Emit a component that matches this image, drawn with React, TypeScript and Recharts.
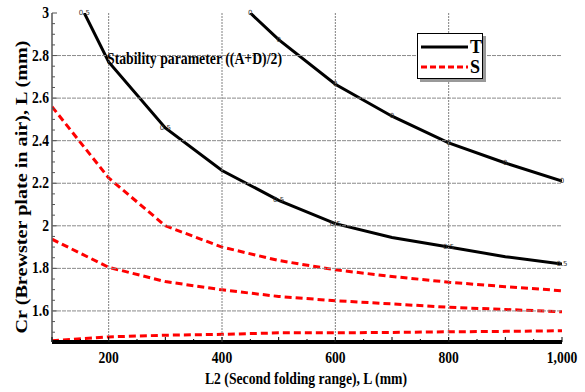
import { LineChart, Line, XAxis, YAxis, LabelList, Legend } from "recharts"

// T curves (contour lines of the stability parameter)
const t1X = [157, 200, 300, 400, 500, 600, 700, 800, 900, 1000]
const t1Y = [3, 2.77, 2.46, 2.26, 2.12, 2.01, 1.945, 1.9, 1.855, 1.82]
const t1Tag = ["0.5", "", "0.5", "", "0.5", "0.5", "", "0.5", "", "0.5"]

const t2X = [450, 500, 600, 700, 800, 900, 1000]
const t2Y = [3, 2.875, 2.665, 2.515, 2.39, 2.295, 2.21]
const t2Tag = ["0", "0", "0", "0", "0", "0", "0"]

const t3X = [100, 1000]
const t3Y = [1.456, 1.456]

// S curves
const sX = [100, 200, 300, 400, 500, 600, 700, 800, 900, 1000]
const s1Y = [2.56, 2.225, 2.0, 1.9, 1.837, 1.793, 1.762, 1.735, 1.714, 1.695]
const s2Y = [1.937, 1.805, 1.738, 1.699, 1.668, 1.648, 1.633, 1.617, 1.607, 1.596]
const s3Y = [1.46, 1.478, 1.486, 1.49, 1.497, 1.497, 1.499, 1.502, 1.504, 1.507]

const xTicks = [100, 150, 200, 250, 300, 350, 400, 450, 500, 550, 600, 650, 700, 750, 800, 850, 900, 950, 1000]
const xLabels = [200, 400, 600, 800, 1000]
const yTicks = [1.5, 1.55, 1.6, 1.65, 1.7, 1.75, 1.8, 1.85, 1.9, 1.95, 2, 2.05, 2.1, 2.15, 2.2, 2.25, 2.3, 2.35, 2.4, 2.45, 2.5, 2.55, 2.6, 2.65, 2.7, 2.75, 2.8, 2.85, 2.9, 2.95, 3]
const yLabels = [1.6, 1.8, 2, 2.2, 2.4, 2.6, 2.8, 3]

const W = 585
const H = 392
const M = { top: 13, right: 23, bottom: 0, left: 0 }
const Y_AXIS_W = 52
const X_AXIS_H = 50
const PLOT_W = W - M.left - M.right - Y_AXIS_W
const PLOT_H = H - M.top - M.bottom - X_AXIS_H

const serif = "'Liberation Serif', 'Times New Roman', serif"

const pts = (xs: number[], ys: number[], tags?: string[]) =>
  xs.map((x, i) => ({ x, y: ys[i], tag: tags ? tags[i] : "" }))

const near = (a: number, list: number[]) => list.some((v) => Math.abs(v - a) < 1e-6)

function XTick(props: any) {
  const { x, y, payload } = props
  const v = payload.value
  const major = v % 100 === 0
  const lab = near(v, xLabels)
  return (
    <g>
      {lab && v < 1000 && (
        <line x1={x} x2={x} y1={y} y2={y - PLOT_H} stroke="#808080" strokeWidth={1} strokeDasharray="2 1" />
      )}
      <line x1={x} x2={x} y1={y} y2={y - (major ? 5 : 3)} stroke="#000" strokeWidth={1} />
      {lab && (
        <text
          transform={`translate(${x},${y + 21}) scale(0.8,1)`}
          textAnchor="middle"
          fontFamily={serif}
          fontWeight="bold"
          fontSize={17}
          fill="#000"
        >
          {v.toLocaleString("en-US")}
        </text>
      )}
    </g>
  )
}

function YTick(props: any) {
  const { x, y, payload } = props
  const v = payload.value
  const lab = near(v, yLabels)
  return (
    <g>
      {lab && v < 3 && (
        <line x1={x} x2={x + PLOT_W} y1={y} y2={y} stroke="#8a8a8a" strokeWidth={1} strokeDasharray="4 1" />
      )}
      <line x1={x} x2={x + (lab ? 5 : 3)} y1={y} y2={y} stroke="#555" strokeWidth={1} />
      {lab && (
        <text
          transform={`translate(${x - 3},${y + 5}) scale(0.85,1)`}
          textAnchor="end"
          fontFamily={serif}
          fontWeight="bold"
          fontSize={16}
          fill="#000"
        >
          {String(Number(v.toFixed(2)))}
        </text>
      )}
    </g>
  )
}

function YTitle() {
  return (
    <text
      transform="translate(27,187) rotate(-90)"
      textAnchor="middle"
      textLength={293}
      lengthAdjust="spacingAndGlyphs"
      fontFamily={serif}
      fontWeight="bold"
      fontSize={17}
      fill="#000"
    >
      Cr (Brewster plate in air), L (mm)
    </text>
  )
}

function XTitle() {
  return (
    <text
      x={306}
      y={384}
      textAnchor="middle"
      textLength={202}
      lengthAdjust="spacingAndGlyphs"
      fontFamily={serif}
      fontWeight="bold"
      fontSize={17}
      fill="#000"
    >
      L2 (Second folding range), L (mm)
    </text>
  )
}

function Tag(props: any) {
  const { x, y, value } = props
  if (!value) return null
  return (
    <text x={x} y={y + 2} fontFamily="'DejaVu Sans', sans-serif" fontSize={7} fill="#333" textAnchor="middle">
      {value}
    </text>
  )
}

function LegendBox() {
  return (
    <div
      style={{
        width: 64,
        height: 44,
        border: "1px solid #000",
        background: "#fff",
        boxShadow: "3px 3px 0 #999",
        position: "relative",
      }}
    >
      <svg width={64} height={44} style={{ position: "absolute", left: 0, top: 0 }}>
        <line x1={3} x2={50} y1={13} y2={13} stroke="#000" strokeWidth={3} />
        <line x1={3} x2={50} y1={33} y2={33} stroke="#f00" strokeWidth={3} strokeDasharray="6 3" />
        <text x={52} y={19} fontFamily={serif} fontWeight="bold" fontSize={18}>T</text>
        <text x={52} y={39} fontFamily={serif} fontWeight="bold" fontSize={18}>S</text>
      </svg>
    </div>
  )
}

export default function App() {
  return (
    <div style={{ position: "absolute", left: 0, top: 0, width: W, height: H, background: "#fff" }}>
      <LineChart width={W} height={H} margin={M}>
        <XAxis
          dataKey="x"
          type="number"
          domain={[100, 1000]}
          ticks={xTicks}
          interval={0}
          allowDataOverflow
          height={X_AXIS_H}
          tickSize={0}
          tickMargin={0}
          tick={<XTick />}
          axisLine={{ stroke: "#000", strokeWidth: 4 }}
          label={<XTitle />}
        />
        <XAxis
          xAxisId="top"
          orientation="top"
          dataKey="x"
          type="number"
          domain={[100, 1000]}
          allowDataOverflow
          height={0}
          tick={false}
          tickLine={false}
          axisLine={{ stroke: "#555", strokeWidth: 1.5 }}
        />
        <YAxis
          dataKey="y"
          type="number"
          domain={[1.454, 3]}
          ticks={yTicks}
          interval={0}
          allowDataOverflow
          width={Y_AXIS_W}
          tickSize={0}
          tickMargin={0}
          tick={<YTick />}
          axisLine={{ stroke: "#555", strokeWidth: 1.5 }}
          label={<YTitle />}
        />
        <YAxis
          yAxisId="right"
          orientation="right"
          dataKey="y"
          type="number"
          domain={[1.454, 3]}
          allowDataOverflow
          width={0}
          tick={false}
          tickLine={false}
          axisLine={{ stroke: "#555", strokeWidth: 1.5 }}
        />

        <Line data={pts(sX, s1Y)} dataKey="y" name="S" stroke="#f00" strokeWidth={3} strokeDasharray="7 4" dot={false} isAnimationActive={false} />
        <Line data={pts(sX, s2Y)} dataKey="y" name="S" stroke="#f00" strokeWidth={3} strokeDasharray="7 4" dot={false} isAnimationActive={false} legendType="none" />
        <Line data={pts(sX, s3Y)} dataKey="y" name="S" stroke="#f00" strokeWidth={3} strokeDasharray="7 4" dot={false} isAnimationActive={false} legendType="none" />
        <Line data={pts(t3X, t3Y)} dataKey="y" name="T" stroke="#000" strokeWidth={3} dot={false} isAnimationActive={false} legendType="none" />
        <Line data={pts(t1X, t1Y, t1Tag)} dataKey="y" name="T" stroke="#000" strokeWidth={3} dot={false} isAnimationActive={false}>
          <LabelList dataKey="tag" content={<Tag />} />
        </Line>
        <Line data={pts(t2X, t2Y, t2Tag)} dataKey="y" name="T" stroke="#000" strokeWidth={3} dot={false} isAnimationActive={false} legendType="none">
          <LabelList dataKey="tag" content={<Tag />} />
        </Line>
        <Legend
          layout="vertical"
          align="center"
          verticalAlign="middle"
          content={<LegendBox />}
          wrapperStyle={{ position: "absolute", left: 417, top: 33, width: 66, height: 46 }}
        />
      </LineChart>
      <div
        style={{
          position: "absolute",
          left: 107,
          top: 50,
          fontFamily: serif,
          fontWeight: "bold",
          fontSize: 16,
          whiteSpace: "nowrap",
          transform: "scaleX(0.86)",
          transformOrigin: "left top",
          color: "#000",
        }}
      >
        Stability parameter ((A+D)/2)
      </div>
    </div>
  )
}
